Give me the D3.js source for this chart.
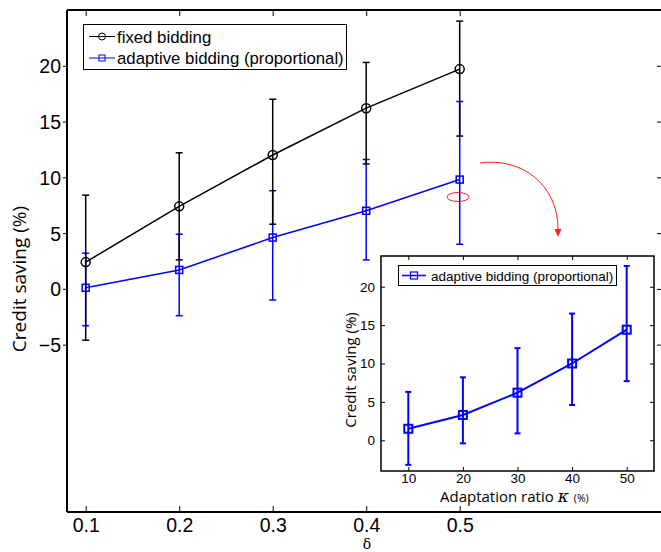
<!DOCTYPE html>
<html><head><meta charset="utf-8">
<script src="https://cdn.jsdelivr.net/npm/d3@7"></script>
<style>body{margin:0;background:#fff}svg{display:block}</style>
</head><body>
<svg id="c" width="661" height="552"></svg>
<script>
// ---- data ----
const deltas = [0.1, 0.2, 0.3, 0.4, 0.5];
const fixedMean  = [2.4, 7.4, 12.0, 16.2, 19.7];
const fixedLow   = [-4.6, 2.6, 5.8, 11.2, 13.7];
const fixedHigh  = [8.4, 12.2, 17.0, 20.3, 24.0];
const adaptMean  = [0.1, 1.7, 4.6, 7.0, 9.8];
const adaptLow   = [-3.3, -2.4, -1.0, 2.6, 4.0];
const adaptHigh  = [3.2, 4.9, 8.8, 11.6, 16.8];
const xTicks = [0.1, 0.2, 0.3, 0.4, 0.5];
const yTicks = [-5, 0, 5, 10, 15, 20];

const kappas     = [10, 20, 30, 40, 50];
const insetMean  = [1.5, 3.3, 6.2, 10.0, 14.4];
const insetLow   = [-3.2, -0.4, 0.9, 4.6, 7.7];
const insetHigh  = [6.3, 8.2, 12.0, 16.5, 22.7];
const insetXTicks = [10, 20, 30, 40, 50];
const insetYTicks = [0, 5, 10, 15, 20];

const svg = d3.select("#c");
const BLUE = "#0000ff";
const AX = "'Liberation Sans', Arial, sans-serif";
const CAL = "'Open Sans', 'Noto Sans', sans-serif";

// ---- main plot ----
const L = 67, T = 10, B = 512;
const x = d3.scaleLinear().domain([0.08, 0.72]).range([L, L + 0.64 * 935]);
const y = d3.scaleLinear().domain([-20, 25]).range([B, T]);

const main = svg.append("g");
main.append("line").attr("x1", L).attr("x2", 661).attr("y1", T).attr("y2", T).attr("stroke", "#000").attr("stroke-width", 2);
main.append("line").attr("x1", L).attr("x2", 661).attr("y1", B).attr("y2", B).attr("stroke", "#000").attr("stroke-width", 2);
main.append("line").attr("x1", L).attr("x2", L).attr("y1", T).attr("y2", B).attr("stroke", "#000").attr("stroke-width", 2);

const xb = main.append("g").attr("transform", `translate(0,${B})`)
  .call(d3.axisBottom(x).tickValues(xTicks).tickFormat(d3.format(".1f")).tickSizeInner(-6).tickSizeOuter(0).tickPadding(6));
const xt = main.append("g").attr("transform", `translate(0,${T})`)
  .call(d3.axisTop(x).tickValues(xTicks).tickFormat("").tickSizeInner(-6).tickSizeOuter(0));
const yl = main.append("g").attr("transform", `translate(${L},0)`)
  .call(d3.axisLeft(y).tickValues(yTicks).tickFormat(d3.format("d")).tickSizeInner(4).tickSizeOuter(0).tickPadding(2));
const yr = main.append("g").attr("transform", `translate(661,0)`)
  .call(d3.axisRight(y).tickValues(yTicks).tickFormat("").tickSizeInner(-4).tickSizeOuter(0));
[xb, xt, yl, yr].forEach(g => {
  g.select(".domain").remove();
  g.selectAll(".tick line").attr("stroke", "#000").attr("stroke-width", 1);
  g.selectAll("text").attr("font-family", AX).attr("font-size", 19.5).attr("fill", "#000");
});
yl.selectAll("text").attr("dy", "0.36em");

main.append("text").attr("transform", "translate(26,279) rotate(-90)")
  .attr("text-anchor", "middle").attr("font-family", CAL).attr("font-size", 19).text("Credit saving (%)");
main.append("text").attr("x", 367).attr("y", 549).attr("text-anchor", "middle")
  .attr("font-family", "'DejaVu Serif', 'Liberation Serif', serif").attr("font-size", 14).text("δ");

function drawSeries(g, xs, ys, mean, lo, hi, xv, color, marker, lw, cap, msize) {
  const line = d3.line().x((d, i) => xs(xv[i])).y(d => ys(d));
  g.append("path").datum(mean).attr("d", line).attr("fill", "none").attr("stroke", color).attr("stroke-width", lw);
  xv.forEach((v, i) => {
    const cx = xs(v);
    g.append("line").attr("x1", cx).attr("x2", cx).attr("y1", ys(lo[i])).attr("y2", ys(hi[i])).attr("stroke", color).attr("stroke-width", lw);
    [lo[i], hi[i]].forEach(e => g.append("line").attr("x1", cx - cap).attr("x2", cx + cap)
      .attr("y1", ys(e)).attr("y2", ys(e)).attr("stroke", color).attr("stroke-width", lw));
  });
  xv.forEach((v, i) => {
    const cx = xs(v), cy = ys(mean[i]);
    if (marker === "circle") g.append("circle").attr("cx", cx).attr("cy", cy).attr("r", msize).attr("fill", "none").attr("stroke", color).attr("stroke-width", lw);
    else g.append("rect").attr("x", cx - msize).attr("y", cy - msize).attr("width", 2 * msize).attr("height", 2 * msize).attr("fill", "none").attr("stroke", color).attr("stroke-width", lw);
  });
}
drawSeries(main, x, y, adaptMean, adaptLow, adaptHigh, deltas, BLUE, "square", 1.5, 3.5, 3.5);
drawSeries(main, x, y, fixedMean, fixedLow, fixedHigh, deltas, "#000", "circle", 1.5, 3.5, 4.5);

// main legend
const lg = main.append("g");
lg.append("rect").attr("x", 83.5).attr("y", 24.5).attr("width", 263).attr("height", 45).attr("fill", "#fff").attr("stroke", "#000").attr("stroke-width", 1);
const legItems = [
  {label: "fixed bidding", color: "#000", marker: "circle", yy: 36.5},
  {label: "adaptive bidding (proportional)", color: BLUE, marker: "square", yy: 58}
];
legItems.forEach(it => {
  lg.append("line").attr("x1", 89).attr("x2", 115).attr("y1", it.yy).attr("y2", it.yy).attr("stroke", it.color).attr("stroke-width", 1);
  if (it.marker === "circle") lg.append("circle").attr("cx", 102).attr("cy", it.yy).attr("r", 3.5).attr("fill", "none").attr("stroke", it.color);
  else lg.append("rect").attr("x", 99).attr("y", it.yy - 3).attr("width", 6).attr("height", 6).attr("fill", "none").attr("stroke", it.color);
  lg.append("text").attr("x", 117).attr("y", it.yy + 6).attr("font-family", AX).attr("font-size", 16.8).text(it.label);
});

// red annotation
const red = "#ff2020";
main.append("ellipse").attr("cx", 458).attr("cy", 197).attr("rx", 11).attr("ry", 4.5).attr("fill", "none").attr("stroke", red).attr("stroke-width", 1);
main.append("path").attr("d", "M480,163 C522,157 558,185 558,229").attr("fill", "none").attr("stroke", red).attr("stroke-width", 1);
main.append("path").attr("d", "M554.5,229 L561.5,229 L558,237 Z").attr("fill", red);

// ---- inset ----
const iL = 381, iR = 654, iT = 256, iB = 471;
const ix = d3.scaleLinear().domain([5, 55]).range([iL, iR]);
const iy = d3.scaleLinear().domain([-4, 24]).range([iB, iT]);
const ins = svg.append("g");
ins.append("rect").attr("x", iL).attr("y", iT).attr("width", iR - iL).attr("height", iB - iT).attr("fill", "#fff").attr("stroke", "#000").attr("stroke-width", 1.5);
const ixb = ins.append("g").attr("transform", `translate(0,${iB})`)
  .call(d3.axisBottom(ix).tickValues(insetXTicks).tickFormat(d3.format("d")).tickSizeInner(-4).tickSizeOuter(0).tickPadding(2));
const ixt = ins.append("g").attr("transform", `translate(0,${iT})`)
  .call(d3.axisTop(ix).tickValues(insetXTicks).tickFormat("").tickSizeInner(-4).tickSizeOuter(0));
const iyl = ins.append("g").attr("transform", `translate(${iL},0)`)
  .call(d3.axisLeft(iy).tickValues(insetYTicks).tickFormat(d3.format("d")).tickSizeInner(-4).tickSizeOuter(0).tickPadding(6));
const iyr = ins.append("g").attr("transform", `translate(${iR},0)`)
  .call(d3.axisRight(iy).tickValues(insetYTicks).tickFormat("").tickSizeInner(-4).tickSizeOuter(0));
[ixb, ixt, iyl, iyr].forEach(g => {
  g.select(".domain").remove();
  g.selectAll(".tick line").attr("stroke", "#000").attr("stroke-width", 1);
  g.selectAll("text").attr("font-family", AX).attr("font-size", 13.5).attr("fill", "#000");
});
drawSeries(ins, ix, iy, insetMean, insetLow, insetHigh, kappas, BLUE, "square", 2, 3, 4);

// inset legend
ins.append("rect").attr("x", 398.5).attr("y", 265.5).attr("width", 218).attr("height", 20).attr("fill", "#fff").attr("stroke", "#000").attr("stroke-width", 1);
ins.append("line").attr("x1", 402).attr("x2", 426).attr("y1", 275.5).attr("y2", 275.5).attr("stroke", BLUE).attr("stroke-width", 1.5);
ins.append("rect").attr("x", 410.5).attr("y", 272).attr("width", 7).attr("height", 7).attr("fill", "none").attr("stroke", BLUE).attr("stroke-width", 1.2);
ins.append("text").attr("x", 431).attr("y", 280.5).attr("font-family", AX).attr("font-size", 13.5).text("adaptive bidding (proportional)");

// inset labels
ins.append("text").attr("transform", "translate(356,370) rotate(-90)").attr("text-anchor", "middle")
  .attr("font-family", CAL).attr("font-size", 15).text("Credit saving (%)");
const xl = ins.append("text").attr("x", 440).attr("y", 502).attr("font-family", CAL).attr("font-size", 15);
xl.append("tspan").text("Adaptation ratio ");
xl.append("tspan").attr("font-family", "'DejaVu Serif', 'Liberation Serif', serif").attr("font-style", "italic").attr("font-size", 17).text("κ");
xl.append("tspan").attr("font-size", 10.5).attr("dx", 5).text("(%)");
</script>
</body></html>
